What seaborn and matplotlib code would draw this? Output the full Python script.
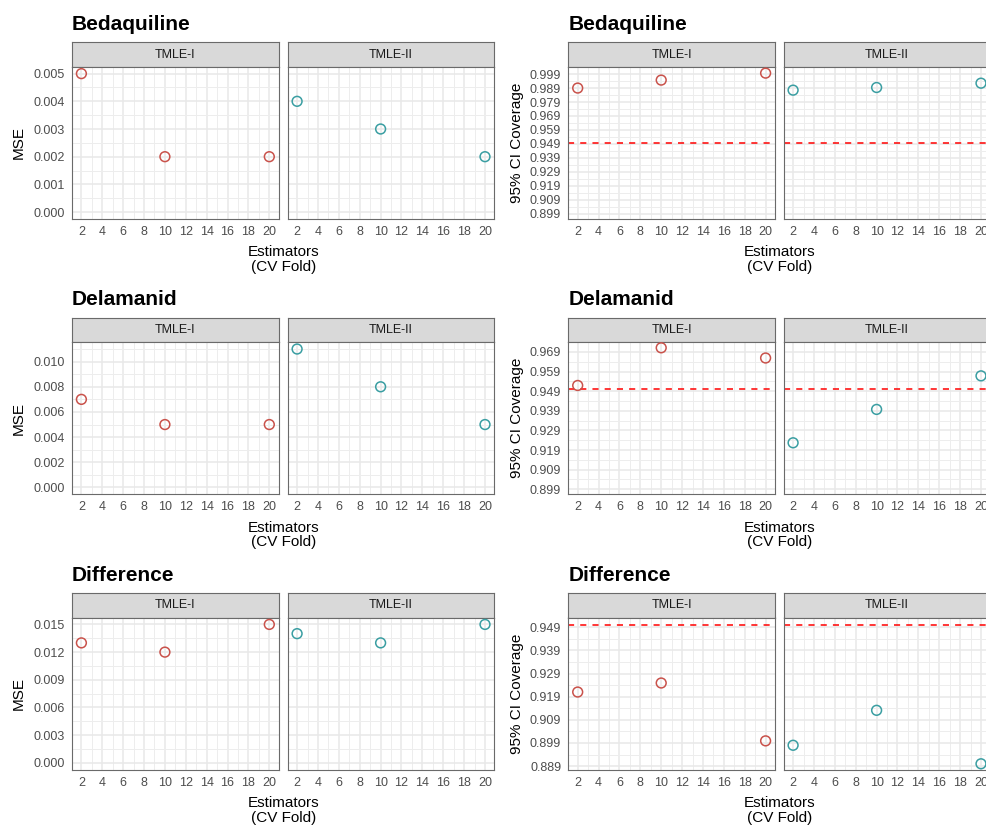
import numpy as np
import pandas as pd
import seaborn as sns
import matplotlib.pyplot as plt

# values
folds = [2, 10, 20]
methods = ["TMLE-I", "TMLE-II"]
drugs = ["Bedaquiline", "Delamanid", "Difference"]

# MSE (left column)
mse_bdq_1 = [0.005, 0.002, 0.002]
mse_bdq_2 = [0.004, 0.003, 0.002]
mse_dlm_1 = [0.007, 0.005, 0.005]
mse_dlm_2 = [0.011, 0.008, 0.005]
mse_dif_1 = [0.013, 0.012, 0.015]
mse_dif_2 = [0.014, 0.013, 0.015]

# 95% CI coverage (right column)
cov_bdq_1 = [0.989, 0.9947, 0.9997]
cov_bdq_2 = [0.9875, 0.9894, 0.9925]
cov_dlm_1 = [0.9519, 0.9711, 0.9659]
cov_dlm_2 = [0.9227, 0.9397, 0.9568]
cov_dif_1 = [0.921, 0.9249, 0.8999]
cov_dif_2 = [0.898, 0.9131, 0.890]

nominal = 0.95

# tick labels
x_ticks = [2, 4, 6, 8, 10, 12, 14, 16, 18, 20]
mse_ticks_bdq = [0.000, 0.001, 0.002, 0.003, 0.004, 0.005]
mse_ticks_dlm = [0.000, 0.002, 0.004, 0.006, 0.008, 0.010]
mse_ticks_dif = [0.000, 0.003, 0.006, 0.009, 0.012, 0.015]
cov_ticks_bdq = [0.899, 0.909, 0.919, 0.929, 0.939, 0.949, 0.959, 0.969, 0.979, 0.989, 0.999]
cov_ticks_dlm = [0.899, 0.909, 0.919, 0.929, 0.939, 0.949, 0.959, 0.969]
cov_ticks_dif = [0.889, 0.899, 0.909, 0.919, 0.929, 0.939, 0.949]

# y limits as drawn (ggplot expansion included)
mse_lims = [(-0.00025, 0.00525), (-0.00055, 0.01155), (-0.00075, 0.01575)]
cov_lims = [(0.8952, 1.0043), (0.8964, 0.9740), (0.8874, 0.9532)]

mse_vals = {"Bedaquiline": (mse_bdq_1, mse_bdq_2),
            "Delamanid": (mse_dlm_1, mse_dlm_2),
            "Difference": (mse_dif_1, mse_dif_2)}
cov_vals = {"Bedaquiline": (cov_bdq_1, cov_bdq_2),
            "Delamanid": (cov_dlm_1, cov_dlm_2),
            "Difference": (cov_dif_1, cov_dif_2)}

rows = []
for d in drugs:
    for metric, src in [("MSE", mse_vals), ("Coverage", cov_vals)]:
        for m, vals in zip(methods, src[d]):
            for f, v in zip(folds, vals):
                rows.append({"drug": d, "metric": metric, "method": m, "fold": f, "value": v})
df = pd.DataFrame(rows)

sns.set_style("white")
plt.rcParams["font.family"] = ["Liberation Sans", "DejaVu Sans"]
plt.rcParams["text.color"] = "black"

palette = {"TMLE-I": "#C9524B", "TMLE-II": "#3A9EA2"}
border = "#6A6A6A"

W, H = 986, 826
fig = plt.figure(figsize=(W / 100, H / 100), dpi=100)


def box(x0, y0, x1, y1):
    return [x0 / W, 1 - y1 / H, (x1 - x0) / W, (y1 - y0) / H]


col_panels = {"MSE": [(72.0, 278.7), (287.7, 494.4)],
              "Coverage": [(568.3, 775.0), (783.7, 990.4)]}
col_ylab = {"MSE": ("MSE", 19), "Coverage": ("95% CI Coverage", 517)}
mse_ticks = [mse_ticks_bdq, mse_ticks_dlm, mse_ticks_dif]
cov_ticks = [cov_ticks_bdq, cov_ticks_dlm, cov_ticks_dif]

for r, d in enumerate(drugs):
    off = r * 275.4
    s_top, s_bot, p_bot = 42.3 + off, 66.7 + off, 219.0 + off
    for metric in ["MSE", "Coverage"]:
        panels = col_panels[metric]
        yt = mse_ticks[r] if metric == "MSE" else cov_ticks[r]
        ylim = mse_lims[r] if metric == "MSE" else cov_lims[r]
        for i, (m, (x0, x1)) in enumerate(zip(methods, panels)):
            # strip
            sax = fig.add_axes(box(x0, s_top, x1, s_bot))
            sax.set_facecolor("#D9D9D9")
            sax.set_xticks([])
            sax.set_yticks([])
            for sp in sax.spines.values():
                sp.set_color(border)
                sp.set_linewidth(0.8)
            sax.text(0.5, 0.5, m, ha="center", va="center", fontsize=9,
                     color="#1A1A1A", transform=sax.transAxes)

            ax = fig.add_axes(box(x0, s_bot, x1, p_bot))
            ax.set_facecolor("white")
            ax.set_axisbelow(True)
            sub = df[(df.drug == d) & (df.metric == metric) & (df.method == m)]
            if metric == "Coverage":
                ax.axhline(nominal, color="#FF0000", lw=1.1, dashes=(4, 4), zorder=2)
            sns.scatterplot(data=sub, x="fold", y="value", ax=ax, s=50,
                            facecolor="none", edgecolor=palette[m],
                            linewidth=1.1, legend=False, zorder=3)
            ax.set(xlabel="", ylabel="")
            ax.set_xlim(1.1, 20.9)
            ax.set_xticks(x_ticks)
            ax.set_xticklabels([str(t) for t in x_ticks])
            ax.set_xticks(np.arange(3, 20, 2), minor=True)
            ax.set_yticks(yt)
            step = yt[1] - yt[0]
            ax.set_yticks([t + step / 2 for t in yt] + [yt[0] - step / 2], minor=True)
            ax.set_ylim(*ylim)
            ax.grid(which="major", color="#E8E8E8", lw=1.1)
            ax.grid(which="minor", color="#EDEDED", lw=0.7)
            ax.tick_params(which="major", length=2.9, width=0.8, color="#444444",
                           labelsize=9, labelcolor="#4D4D4D", pad=2.2)
            ax.tick_params(which="minor", length=0)
            if i == 0:
                ax.set_yticklabels([f"{t:.3f}" for t in yt])
            else:
                ax.tick_params(axis="y", which="major", left=False, labelleft=False)
            for sp in ax.spines.values():
                sp.set_color(border)
                sp.set_linewidth(0.8)

        # titles and axis labels
        fig.text(panels[0][0] / W, 1 - (30 + off) / H, d, fontsize=15,
                 weight="bold", ha="left", va="baseline")
        lab, lx = col_ylab[metric]
        fig.text(lx / W, 1 - ((s_bot + p_bot) / 2) / H, lab, rotation=90,
                 fontsize=11, ha="center", va="center")
        cx = (panels[0][0] + panels[1][1]) / 2
        fig.text(cx / W, 1 - (256.5 + off) / H, "Estimators", fontsize=11,
                 ha="center", va="baseline")
        fig.text(cx / W, 1 - (271 + off) / H, "(CV Fold)", fontsize=11,
                 ha="center", va="baseline")

fig.savefig("out.png", dpi=100)
